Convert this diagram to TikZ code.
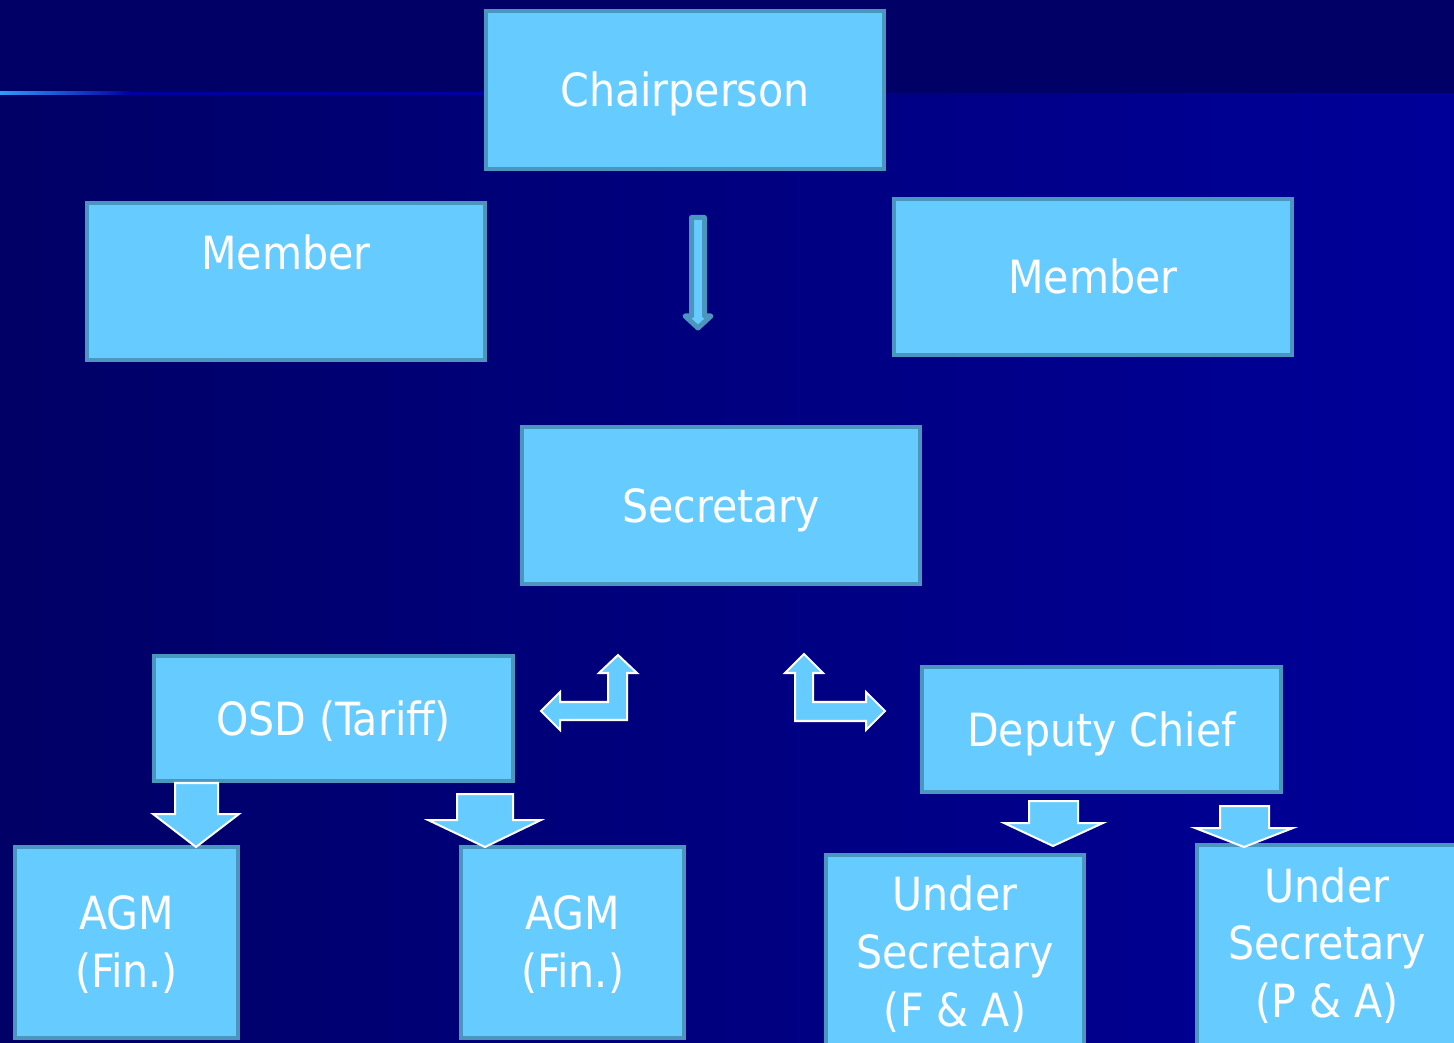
\documentclass[tikz,border=0pt]{standalone}
\usepackage{fontspec}
\setmainfont{DejaVu Sans Condensed}
\definecolor{boxfill}{HTML}{66CCFF}
\definecolor{boxline}{HTML}{4A96BF}
\definecolor{bgdark}{HTML}{000066}
\definecolor{bglight}{HTML}{000099}
\definecolor{rulelight}{HTML}{3399FF}
\definecolor{ruledark}{HTML}{0000A0}
\tikzset{
  box/.style={draw=boxline, fill=boxfill, line width=0.04cm, text=white,
    align=center, text height=0.4cm, text depth=0.07cm, inner sep=0pt,
    font=\fontsize{13pt}{16.4pt}\selectfont},
  blockarrow/.style={fill=boxfill, draw=white, line width=0.02cm},
  thinarrow/.style={fill=boxfill, draw=boxline, line width=0.05cm, line join=round}
}
\begin{document}
\begin{tikzpicture}[x=0.01cm, y=-0.01cm]

\useasboundingbox (0,0) rectangle (1454,1043);
\clip (0,0) rectangle (1454,1043);

% background
\fill[bgdark] (0,0) rectangle (1454,94);
\shade[left color=bgdark, right color=bglight] (0,94) rectangle (1454,1043);
\shade[left color=rulelight, right color=ruledark] (0,92) rectangle (130,95);
\fill[ruledark] (130,92) rectangle (484,95);

% boxes
\node[box, minimum width=3.98cm, minimum height=1.58cm] (chair) at (685,90) {Chairperson};

\node[box, minimum width=3.98cm, minimum height=1.57cm, text depth=0.64cm] (memleft) at (286,281.5) {Member};

\node[box, minimum width=3.98cm, minimum height=1.56cm] (memright) at (1093,277) {Member};

\node[box, minimum width=3.98cm, minimum height=1.57cm] (secy) at (721,505.5) {Secretary};

\node[box, minimum width=3.59cm, minimum height=1.25cm] (osd) at (333.5,718.5) {OSD (Tariff)};

\node[box, minimum width=3.59cm, minimum height=1.25cm] (dychief) at (1101.5,729.5) {Deputy Chief};

\node[box, minimum width=2.23cm, minimum height=1.91cm, text height=0.97cm] (agmone) at (126.5,942.5) {AGM\\(Fin.)};

\node[box, minimum width=2.23cm, minimum height=1.91cm, text height=0.97cm] (agmtwo) at (572.5,942.5) {AGM\\(Fin.)};

\node[box, minimum width=2.58cm, minimum height=1.93cm, text height=1.56cm] (usfa) at (955,951.5) {Under\\Secretary\\(F \& A)};

\node[box, minimum width=2.60cm, minimum height=2.06cm, text height=1.56cm, text depth=0.17cm] (uspa) at (1327,948) {Under\\Secretary\\(P \& A)};

% arrow from chairperson
\draw[thinarrow] (691.5,217.5) -- (704.5,217.5) -- (704.5,316) -- (711,316) -- (698,328)
  -- (685,316) -- (691.5,316) -- cycle;

% bent arrows beside secretary
\draw[blockarrow] (618,655) -- (637,673) -- (627,673) -- (627,720) -- (560,720) -- (560,730)
  -- (541,711) -- (560,692) -- (560,702) -- (608,702) -- (608,673) -- (599,673) -- cycle;

\draw[blockarrow] (804,654) -- (823,673) -- (813,673) -- (813,702) -- (866,702) -- (866,692)
  -- (885,711) -- (866,730) -- (866,721) -- (795,721) -- (795,673) -- (785,673) -- cycle;

% block arrows down
\draw[blockarrow] (175,783) -- (218,783) -- (218,814) -- (239,814) -- (196,847)
  -- (153,814) -- (175,814) -- cycle;

\draw[blockarrow] (457,794) -- (513,794) -- (513,820) -- (541,820) -- (485,847)
  -- (428,820) -- (457,820) -- cycle;

\draw[blockarrow] (1029,801) -- (1078,801) -- (1078,823) -- (1103,823) -- (1053,846)
  -- (1004,823) -- (1029,823) -- cycle;

\draw[blockarrow] (1220,806) -- (1269,806) -- (1269,828) -- (1293,828) -- (1244,847)
  -- (1195,828) -- (1220,828) -- cycle;

\end{tikzpicture}
\end{document}
